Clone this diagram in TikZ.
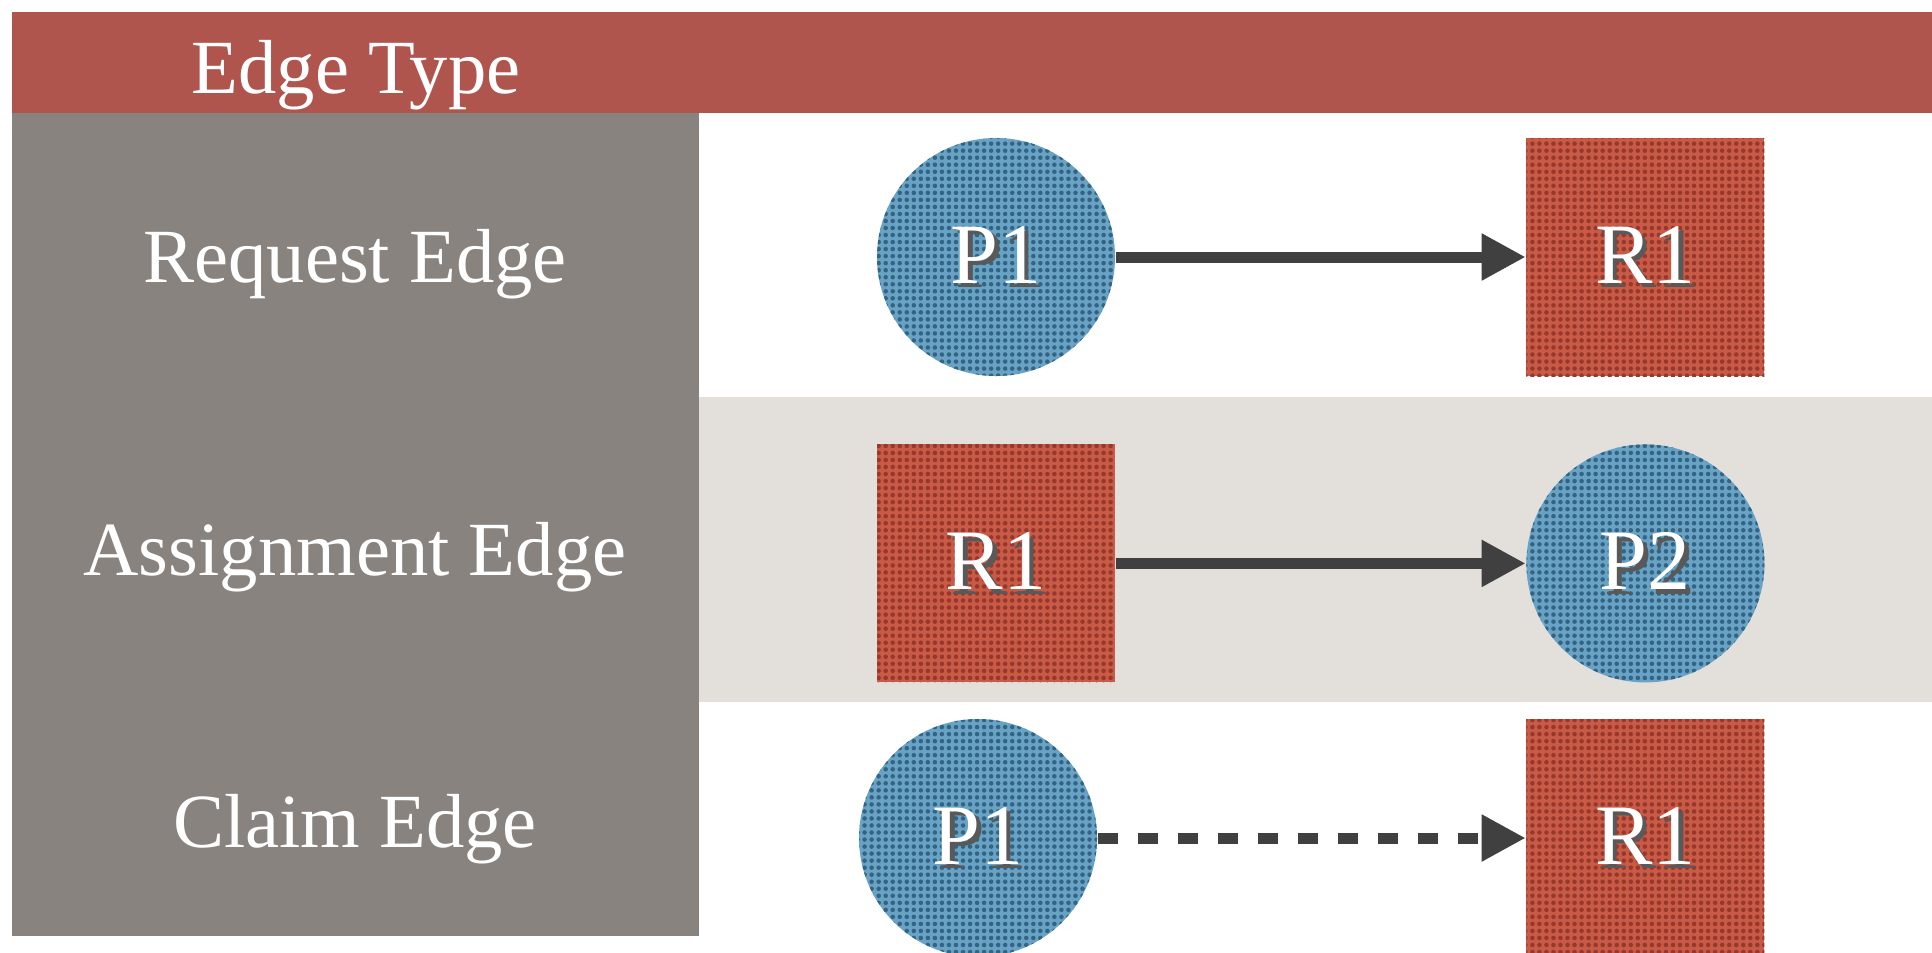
\documentclass[tikz,border=0pt]{standalone}
\usepackage{fontspec}
\setmainfont{Liberation Serif}
\usepackage{tikz}
\usetikzlibrary{positioning}
\usetikzlibrary{arrows.meta,patterns}
\usepackage{color}

\definecolor{headred}{RGB}{176,85,78}
\definecolor{colgray}{RGB}{136,131,127}
\definecolor{bandgray}{RGB}{227,224,219}
\definecolor{procblue}{RGB}{104,163,198}
\definecolor{procdot}{RGB}{52,100,130}
\definecolor{resred}{RGB}{200,90,70}
\definecolor{resdot}{RGB}{150,56,45}
\definecolor{edgegray}{RGB}{64,64,64}

\pgfdeclarepatternformonly{meshdots}{\pgfqpoint{-1pt}{-1pt}}{\pgfqpoint{1pt}{1pt}}{\pgfqpoint{2pt}{2pt}}{\pgfpathcircle{\pgfqpoint{0pt}{0pt}}{0.65pt}\pgfusepath{fill}}
\newcommand{\shadowtext}[1]{\makebox[0pt][l]{\hspace{1.3pt}\raisebox{-1.3pt}{\color{black!65}#1}}#1}

\begin{document}
\begin{tikzpicture}[
procnode/.style={circle, preaction={fill=procblue}, pattern=meshdots, pattern color=procdot, minimum size=2.38cm, inner sep=0pt, text=white, font=\fontsize{24.5pt}{29pt}\selectfont},
resnode/.style={rectangle, preaction={fill=resred}, pattern=meshdots, pattern color=resdot, minimum size=2.38cm, inner sep=0pt, text=white, font=\fontsize{24.5pt}{29pt}\selectfont},
rowlabel/.style={anchor=base, text=white, inner sep=0pt, font=\fontsize{21.8pt}{26pt}\selectfont},
edgeline/.style={draw=edgegray, line width=0.11cm, -{Triangle[length=0.44cm,width=0.44cm]}},
]
\useasboundingbox (0,0) rectangle (19.32,-9.52);
%Background
\fill[white] (0,0) rectangle (19.32,-9.52);
\fill[headred] (0.12,-0.12) rectangle (19.32,-1.13);
\fill[colgray] (0.12,-1.13) rectangle (6.99,-9.36);
\fill[bandgray] (6.99,-3.97) rectangle (19.32,-7.02);
%Text
\node[rowlabel] (title)  at (3.56,-0.93) {Edge Type};
\node[rowlabel] (req)    at (3.55,-2.82) {Request Edge};
\node[rowlabel] (assign) at (3.55,-5.75) {Assignment Edge};
\node[rowlabel] (claim)  at (3.55,-8.47) {Claim Edge};
%Nodes
\node[procnode]  (p1a)  at (9.96,-2.57)           {\shadowtext{P1}};
\node[resnode]   (r1a)  [right=4.10cm of p1a]     {\shadowtext{R1}};
\node[resnode]   (r1b)  [below=0.67cm of p1a]     {\shadowtext{R1}};
\node[procnode]  (p2)   [right=4.10cm of r1b]     {\shadowtext{P2}};
\node[procnode]  (p1c)  at (9.78,-8.38)           {\shadowtext{P1}};
\node[resnode]   (r1c)  [right=4.28cm of p1c]     {\shadowtext{R1}};
%Lines
\draw[edgeline] (p1a) -- (r1a);
\draw[edgeline] (r1b) -- (p2);
\draw[edgeline, dash pattern=on 0.2cm off 0.2cm] (p1c) -- (r1c);
\end{tikzpicture}
\end{document}
